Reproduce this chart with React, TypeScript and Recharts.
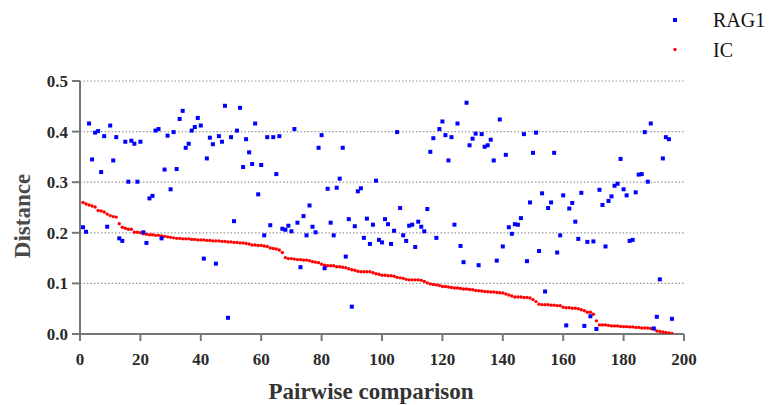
import { ScatterChart, Scatter, XAxis, YAxis, CartesianGrid, Legend, Label } from 'recharts'

// RAG1 distance per pairwise comparison (1..196)
const rag1 = [
  0.211, 0.202, 0.416, 0.345, 0.398, 0.401, 0.32, 0.391, 0.212, 0.412,
  0.343, 0.389, 0.189, 0.184, 0.38, 0.301, 0.382, 0.376, 0.301, 0.38,
  0.201, 0.18, 0.268, 0.273, 0.402, 0.405, 0.189, 0.325, 0.392, 0.286,
  0.399, 0.326, 0.425, 0.441, 0.368, 0.376, 0.402, 0.409, 0.427, 0.412,
  0.149, 0.347, 0.388, 0.375, 0.139, 0.391, 0.38, 0.451, 0.032, 0.389,
  0.223, 0.402, 0.447, 0.33, 0.385, 0.359, 0.336, 0.416, 0.276, 0.334,
  0.195, 0.389, 0.215, 0.389, 0.316, 0.391, 0.208, 0.206, 0.214, 0.203,
  0.405, 0.22, 0.132, 0.233, 0.195, 0.254, 0.212, 0.201, 0.368, 0.393,
  0.13, 0.287, 0.22, 0.195, 0.289, 0.307, 0.368, 0.153, 0.227, 0.054,
  0.213, 0.282, 0.288, 0.19, 0.228, 0.178, 0.216, 0.303, 0.186, 0.181,
  0.227, 0.217, 0.178, 0.204, 0.399, 0.249, 0.195, 0.184, 0.214, 0.216,
  0.172, 0.222, 0.212, 0.203, 0.247, 0.36, 0.387, 0.19, 0.405, 0.42,
  0.393, 0.343, 0.389, 0.216, 0.416, 0.174, 0.142, 0.457, 0.373, 0.386,
  0.396, 0.136, 0.395, 0.37, 0.373, 0.384, 0.343, 0.145, 0.424, 0.173,
  0.354, 0.211, 0.198, 0.217, 0.216, 0.229, 0.395, 0.144, 0.26, 0.358,
  0.398, 0.164, 0.278, 0.084, 0.249, 0.26, 0.358, 0.161, 0.195, 0.274,
  0.017, 0.248, 0.259, 0.222, 0.188, 0.279, 0.016, 0.182, 0.035, 0.183,
  0.01, 0.285, 0.255, 0.173, 0.263, 0.272, 0.293, 0.297, 0.346, 0.286,
  0.274, 0.184, 0.186, 0.28, 0.315, 0.316, 0.399, 0.301, 0.416, 0.011,
  0.034, 0.108, 0.347, 0.389, 0.385, 0.03,
]

// IC distance, sorted descending
const ic = [
  0.26, 0.257, 0.255, 0.253, 0.251, 0.244, 0.243, 0.241, 0.237, 0.234,
  0.232, 0.231, 0.218, 0.211, 0.209, 0.207, 0.207, 0.201, 0.201, 0.2,
  0.198, 0.197, 0.196, 0.196, 0.195, 0.195, 0.194, 0.193, 0.192, 0.191,
  0.19, 0.189, 0.189, 0.188, 0.188, 0.188, 0.187, 0.187, 0.186, 0.186,
  0.186, 0.185, 0.185, 0.184, 0.184, 0.184, 0.183, 0.183, 0.182, 0.182,
  0.181, 0.181, 0.18, 0.18, 0.179, 0.178, 0.176, 0.176, 0.175, 0.175,
  0.174, 0.173, 0.17, 0.169, 0.168, 0.166, 0.161, 0.151, 0.149, 0.149,
  0.148, 0.147, 0.147, 0.146, 0.146, 0.145, 0.143, 0.142, 0.141, 0.138,
  0.136, 0.135, 0.135, 0.135, 0.133, 0.133, 0.132, 0.131, 0.129, 0.127,
  0.126, 0.124, 0.123, 0.123, 0.123, 0.123, 0.121, 0.119, 0.118, 0.116,
  0.116, 0.115, 0.115, 0.114, 0.112, 0.111, 0.11, 0.108, 0.107, 0.107,
  0.107, 0.107, 0.106, 0.104, 0.101, 0.099, 0.098, 0.097, 0.096, 0.094,
  0.094, 0.093, 0.092, 0.091, 0.091, 0.09, 0.089, 0.089, 0.088, 0.0875,
  0.086, 0.0855, 0.085, 0.084, 0.0836, 0.083, 0.083, 0.082, 0.0816, 0.081,
  0.079, 0.077, 0.075, 0.073, 0.073, 0.073, 0.072, 0.072, 0.071, 0.068,
  0.064, 0.059, 0.058, 0.058, 0.058, 0.057, 0.057, 0.056, 0.056, 0.053,
  0.052, 0.052, 0.051, 0.051, 0.05, 0.048, 0.046, 0.043, 0.043, 0.039,
  0.026, 0.018, 0.018, 0.018, 0.017, 0.016, 0.016, 0.016, 0.015, 0.0145,
  0.0145, 0.014, 0.014, 0.013, 0.013, 0.012, 0.012, 0.012, 0.011, 0.01,
  0.006, 0.005, 0.004, 0.003, 0.002, 0.001,
]

const xTicks = [0, 20, 40, 60, 80, 100, 120, 140, 160, 180, 200]
const yTicks = [0, 0.1, 0.2, 0.3, 0.4, 0.5]

const BLUE = '#0000ff'
const RED = '#ff0000'
const FONT = "'Liberation Serif', 'Times New Roman', serif"

const rag1Data = rag1.map((v, i) => ({ x: i + 1, y: v }))
const icData = ic.map((v, i) => ({ x: i + 1, y: v }))

const legendItems = [
  { name: 'RAG1', color: BLUE, square: true },
  { name: 'IC', color: RED, square: false },
]

const tickTextStyle = { fontFamily: FONT, fontWeight: 700, fontSize: 17, fill: '#2a2a2a' }

// eslint-disable-next-line @typescript-eslint/no-explicit-any
const BlueSquare = (props: any) => (
  <rect x={props.cx - 2} y={props.cy - 2} width={4} height={4} fill={BLUE} />
)
// eslint-disable-next-line @typescript-eslint/no-explicit-any
const RedDot = (props: any) => <circle cx={props.cx} cy={props.cy} r={1.7} fill={RED} />

// eslint-disable-next-line @typescript-eslint/no-explicit-any
const XTick = (p: any) => (
  <text x={p.x} y={p.y} dy="0.71em" textAnchor="middle" style={tickTextStyle}>
    {p.payload.value}
  </text>
)

// eslint-disable-next-line @typescript-eslint/no-explicit-any
const YTick = (p: any) => (
  <text x={p.x} y={p.y} dy="0.35em" textAnchor="end" style={tickTextStyle}>
    {Number(p.payload.value).toFixed(1)}
  </text>
)

function LegendBox() {
  return (
    <svg width={773} height={70} style={{ display: 'block' }}>
      {legendItems.map((item, i) => (
        <g key={item.name}>
          {item.square ? (
            <rect x={673} y={18 + i * 29.5} width={4} height={4} fill={item.color} />
          ) : (
            <circle cx={675} cy={20 + i * 29.5} r={1.7} fill={item.color} />
          )}
          <text x={713} y={27 + i * 30} style={{ fontFamily: FONT, fontSize: 20, fill: '#111' }}>
            {item.name}
          </text>
        </g>
      ))}
    </svg>
  )
}

export default function App() {
  return (
    <div style={{ position: 'absolute', left: 0, top: 0, width: 773, height: 405, background: '#fff', fontFamily: FONT }}>
      <ScatterChart
        width={773}
        height={405}
        margin={{ top: 81, right: 89, bottom: 0, left: 0 }}
        style={{ fontFamily: FONT }}
      >
        <CartesianGrid vertical={false} stroke="#999" strokeWidth={1.2} strokeDasharray="1.5 2" />
        <XAxis
          type="number"
          dataKey="x"
          domain={[0, 200]}
          ticks={xTicks}
          height={71}
          axisLine={{ stroke: '#777', strokeWidth: 2 }}
          tickLine={{ stroke: '#777', strokeWidth: 2 }}
          tickSize={7}
          tickMargin={12}
          tick={XTick}
          allowDataOverflow
        >
          <Label
            // eslint-disable-next-line @typescript-eslint/no-explicit-any
            content={(p: any) => (
              <text
                x={p.viewBox.x + p.viewBox.width / 2 - 11}
                y={p.viewBox.y + 65}
                textAnchor="middle"
                style={{ fontFamily: FONT, fontSize: 23, fontWeight: 700, fill: '#333' }}
              >
                Pairwise comparison
              </text>
            )}
          />
        </XAxis>
        <YAxis
          type="number"
          dataKey="y"
          domain={[0, 0.5]}
          ticks={yTicks}
          width={80}
          axisLine={{ stroke: '#777', strokeWidth: 2 }}
          tickLine={{ stroke: '#777', strokeWidth: 2 }}
          tickSize={8}
          tickMargin={4}
          tick={YTick}
          allowDataOverflow
        >
          <Label
            // eslint-disable-next-line @typescript-eslint/no-explicit-any
            content={(p: any) => {
              const x = p.viewBox.x + 30
              const y = p.viewBox.y + p.viewBox.height / 2 + 8.5
              return (
                <text
                  x={x}
                  y={y}
                  transform={`rotate(-90, ${x}, ${y})`}
                  textAnchor="middle"
                  style={{ fontFamily: FONT, fontSize: 23, fontWeight: 700, fill: '#4a4a4a' }}
                >
                  Distance
                </text>
              )
            }}
          />
        </YAxis>
        <Legend
          layout="vertical"
          align="center"
          verticalAlign="middle"
          wrapperStyle={{ position: 'absolute', left: 0, top: 0, width: 773, height: 70 }}
          content={() => <LegendBox />}
        />
        <Scatter name="IC" data={icData} fill={RED} shape={RedDot} isAnimationActive={false} />
        <Scatter name="RAG1" data={rag1Data} fill={BLUE} shape={BlueSquare} isAnimationActive={false} />
      </ScatterChart>
    </div>
  )
}
